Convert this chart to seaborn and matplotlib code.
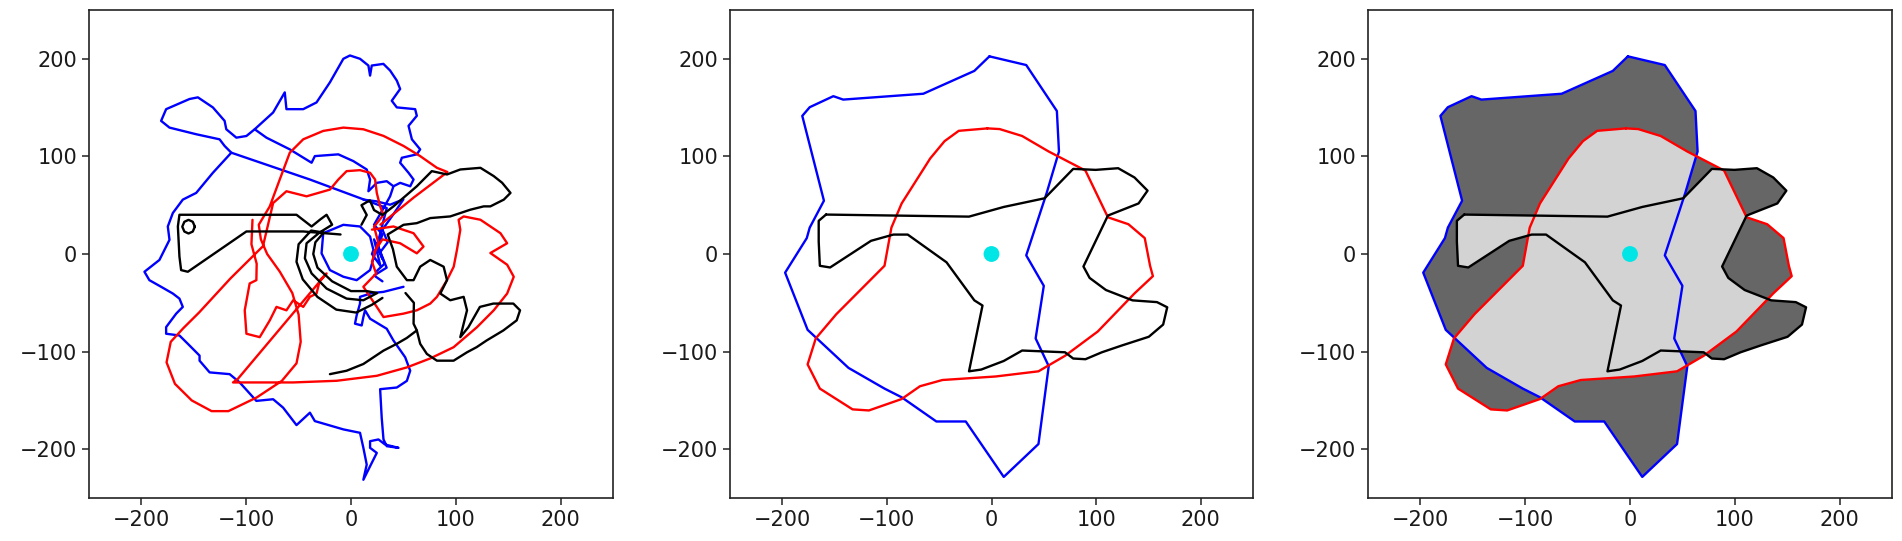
import numpy as np
import pandas as pd
import matplotlib
matplotlib.use("Agg")
import matplotlib.pyplot as plt
from matplotlib.patches import Polygon
import seaborn as sns

# ---------------- data ----------------
TICKS = [-200, -100, 0, 100, 200]
ORIGIN = (0, 0)

# Panel 1: raw trajectories (segments of each colour)
BLUE_TRACK_1 = [(25, 10), (30, -5), (22, 15), (28, -12), (20, 0), (21.4, 4.2), (18.2, 17.9), (8.6, 28.2),
                (-7.3, 29.9), (-26.5, 21.3), (-28.1, 0.7), (-20.1, -16.5), (-7.3, -23.3), (5.4, -26.8),
                (18.2, -16.5), (24, 5), (30, 30), (34.1, 47.1), (-39.2, 76.3), (-114.2, 103.8),
                (-120.6, 110.7), (-125.4, 117.5), (-147.7, 122.7), (-173.2, 129.5), (-181.2, 136.4),
                (-176.4, 148.4), (-154.1, 158.8), (-146.1, 160.5), (-131.8, 150.2), (-120.6, 136.4),
                (-119.0, 127.8), (-109.4, 119.2), (-99.8, 120.9), (-91.9, 127.8), (-74.3, 145),
                (-63.2, 165.6), (-61.6, 148.4), (-45.6, 148.4), (-32.9, 155.3), (-20.1, 175.9),
                (-7.3, 200), (-1.0, 203.4), (8.6, 200), (16.6, 193.1), (18.2, 182.8), (19.8, 193.1),
                (30.9, 194.8), (37.3, 188), (43.7, 177.7), (46.9, 169.1), (38.9, 157), (43.7, 150.2),
                (61.2, 148.4), (62.8, 141.6), (54.9, 131.3), (58.1, 117.5), (66.0, 107.2), (62.8, 102.1),
                (48.5, 98.6), (46.9, 93.5), (54.9, 83.2), (59.7, 76.3), (56.5, 69.4), (46.9, 72.9),
                (40.5, 69.4), (37.3, 59.1), (30, 45), (22, 30), (30, 20), (26, 8), (32, -10), (24, -18)]
BLUE_TRACK_2 = [(-91.9, 127.8), (-80.7, 119.2), (-58.4, 107.2), (-37.6, 93.5), (-34.5, 100.3),
                (-12.1, 102.1), (2.2, 95.2), (15.0, 86.6), (18.2, 76.3), (16.6, 64.3), (24.6, 72.9),
                (34.1, 74.6), (40.5, 69.4)]
BLUE_TRACK_3 = [(-114.2, 103.8), (-131.8, 83.2), (-147.7, 62.6), (-160.5, 55.7), (-170, 42),
                (-174.8, 28.2), (-173.2, 14.5), (-182.8, -6.1), (-197.1, -18.2), (-192.4, -26.8),
                (-181.2, -33.6), (-170, -40.5), (-163.7, -45.7), (-160.5, -54.2), (-166.8, -61.1),
                (-176.4, -74.9), (-176.4, -81.7), (-163.7, -83.5), (-155.7, -92.0), (-144.5, -104.1),
                (-144.5, -109.3), (-134.9, -121.3), (-115.8, -123.1), (-106.2, -131.6), (-90.3, -150.5),
                (-74.3, -148.8), (-64.8, -157.4), (-52, -175.3), (-39.2, -162.6), (-34.5, -171.2),
                (-7.3, -179.7), (8.6, -183.2), (11.8, -198.6), (15, -215.8), (11.8, -231.3),
                (18.2, -217.5), (24.6, -203.8), (18.2, -198.6), (18.2, -191.8), (26.2, -190),
                (32.5, -195.2), (45.3, -198.6), (34.1, -196.9), (31, -190), (29.3, -167.7),
                (27.8, -138.5), (43.7, -136.8), (53.3, -130), (56.5, -119.6), (51.7, -105.8),
                (40.5, -88.6), (34.1, -76.6), (18.2, -66.3), (13.4, -57.7), (11.8, -64.6),
                (10.2, -73.2), (3.8, -71.4), (5.4, -62.9), (8.6, -50.8), (8.6, -43.9), (20, -40),
                (31, -38.8), (50.1, -33.6)]
BLUE_TRACK_4 = [(11.8, 55.7), (24, 54), (37.3, 50.5), (50, 56), (40, 40), (30, 25), (35, 12),
                (28, 2), (34, -14), (22, -22), (30, -28)]

RED_TRACK_1 = [(28, 30), (60, 58), (92, 84), (82, 88.3), (66, 100.3), (50.1, 110.7), (31, 121),
               (11.8, 127.8), (-7.3, 129.5), (-26.5, 126.1), (-45.6, 117.5), (-58.4, 103.8),
               (-68, 76.3), (-77.5, 48.8), (-88, 30), (-86, 15), (-80, 0), (-68, -18), (-56, -40),
               (-50, -62), (-48, -90), (-52, -112), (-66, -130), (-90, -147), (-117, -161),
               (-133, -161), (-152, -150), (-168, -133), (-176, -111), (-172, -90), (-160, -76),
               (-145, -60), (-115, -25), (-84, 8), (-74.3, 52.2), (-61.6, 64.3), (-42.4, 59.1),
               (-20.1, 66), (-12.1, 76.3), (-4.2, 84.9), (8.6, 85.9), (18.2, 83.2), (23, 76.3),
               (24.6, 62.6), (27.8, 48.8), (31, 40), (22, 28), (26, 12), (20, -8), (24, -20),
               (11.8, -33.6), (22, -50), (31, -64.6), (50.1, -61.1), (62.8, -57.7), (75.6, -50.8),
               (82, -43.9), (91.6, -26.8), (98, -13), (101.1, 4.2), (104.3, 24.8), (102.7, 35.1),
               (107.5, 38.5), (123.5, 35.1), (142.6, 21.3), (149, 11), (133, 1), (149, -11),
               (155.3, -23.3), (149, -40.5), (136.2, -57.7), (120.3, -74.9), (97.9, -95.5),
               (75.6, -107), (53.3, -116.2), (24.6, -124.8), (-13.7, -129.9), (-55.2, -131.6),
               (-112.6, -131.6), (-108, -128), (-23.3, -19.9), (-29.7, -26.8), (-32.9, -40.5),
               (-39.2, -43.9), (-45.6, -54.2), (-55.2, -47.4), (-61.6, -57.7), (-71.1, -54.2),
               (-77.5, -68), (-87.1, -85.2), (-99.8, -81.7), (-101.4, -57.7), (-96.7, -30.2),
               (-90.3, -26.8), (-90, -10), (-95, 10), (-94, 35)]
RED_TRACK_2 = [(20, 25), (40.5, 28.2), (59.7, 21.3), (69.2, 7.6), (62.8, 0.7), (46.9, 11),
               (30, 15), (22, 2)]

BLACK_TRACK_1 = [(-10, 20), (-45.6, 23.1), (-99.8, 23.1), (-155.7, -18.2), (-162.1, -16.5),
                 (-163.7, -2.7), (-165.2, 28.2), (-163.7, 40.2), (-52, 40.2), (-37.6, 28.2),
                 (-29.7, 35.1), (-23.3, 40.2), (-18, 30), (-30, 22), (-42.4, 11), (-44, -4.4),
                 (-37.6, -19.9), (-23.3, -35.4), (-4.2, -45.7), (11.8, -47.4), (25, -40),
                 (15, -38), (0, -38), (-18, -28), (-32, -14), (-36, 0), (-34, 12), (-26, 22),
                 (-38, 24), (-50, 10), (-52, -8), (-46, -26), (-32, -44), (-14, -57), (5, -60),
                 (20, -52), (30, -45)]
BLACK_RING = [(-149, 28), (-151, 33), (-155, 35), (-159, 33), (-161, 28), (-159, 23), (-155, 21),
              (-151, 23), (-149, 28)]
BLACK_TRACK_2 = [(10, 30), (15, 40), (10, 50), (18, 55), (22, 45), (30, 40), (40.5, 48.8),
                 (62.8, 69.4), (77.1, 84.9), (91.6, 81.5), (104.3, 86.6), (123.5, 88.3),
                 (136.2, 79.8), (144.2, 73), (152.2, 62.6), (145.8, 55.7), (133, 48.8),
                 (126.6, 48.8), (113.9, 45.4), (94.7, 38.5), (75.6, 36.8), (62.8, 31.6),
                 (50.1, 29.9), (35, 20), (40, 5), (43.7, -13), (53.3, -26.8), (59.7, -26.8),
                 (66, -13), (75.6, -6.1), (88.4, -13), (91.6, -26.8), (85.2, -40.5), (94.7, -47.4),
                 (107.5, -43.9), (110.7, -57.7), (107.5, -71.4), (104.3, -85.2), (112, -75),
                 (123, -54.2), (135.8, -50.8), (154.9, -50.8), (161.3, -57.7), (158.1, -68),
                 (145.4, -78.3), (129.4, -88.6), (119.8, -95.5), (110.7, -100.7), (97.9, -109.3),
                 (82, -109.3), (72.4, -102.4), (66, -92), (62.8, -78.3), (59.7, -71.4),
                 (60, -50), (52, -40)]
BLACK_TRACK_3 = [(-20.1, -123.1), (-4.2, -119.6), (11.8, -112.7), (31, -99), (43.7, -92),
                 (53.3, -86), (62.8, -78.3)]

# Panels 2 & 3: simplified boundaries
BLUE_BOUNDARY = [(-2, 202.5), (33.2, 193.6), (62.5, 146.5), (64.5, 105), (52.7, 62.4), (33.2, -1.4),
                 (50, -32.6), (42.2, -86.5), (54.7, -114.9), (44.9, -194.7), (11.7, -228.4),
                 (-24.6, -171.6), (-52.7, -171.6), (-85.9, -146.8), (-102.3, -137.9),
                 (-136.7, -116.7), (-175.8, -77.7), (-197.3, -19.1), (-176.6, 16.3), (-173.8, 27),
                 (-160.2, 54.6), (-180.9, 141.5), (-173.8, 150.4), (-151.2, 161.7), (-141.8, 158.2),
                 (-65.2, 164.2), (-16.4, 187.6)]
RED_BOUNDARY = [(-3.9, 128.7), (-31.3, 126.2), (-44.9, 115.6), (-58.6, 97.9), (-85.9, 51.8),
                (-95.7, 27), (-102.3, -12.1), (-148.4, -61.7), (-168, -86.5), (-175.8, -113.1),
                (-164.1, -137.9), (-132.8, -159.2), (-117.2, -160.3), (-85.9, -148.6),
                (-68.4, -135.5), (-46.9, -129.1), (3.9, -125.5), (44.9, -120.2), (70.3, -104.3),
                (101.6, -79.4), (136.7, -40.4), (154.3, -22.7), (151.6, -12.1), (146.5, 16.3),
                (130.9, 30.5), (111.3, 37.6), (89.8, 85.5), (54.7, 105), (29.3, 120.9), (7.8, 128)]
BLACK_BOUNDARY = [(-158.2, 40.4), (-21.5, 38.3), (11.7, 48.2), (50.8, 57.1), (78.1, 87.2),
                  (99.6, 86.2), (121.1, 87.9), (136.7, 78.4), (149.2, 64.9), (140.6, 51.8),
                  (111.3, 39.4), (87.9, -12.8), (93.8, -24.5), (109.4, -36.9), (134.8, -47.5),
                  (158.2, -49.3), (168, -54.6), (164.1, -72.3), (150.4, -84.8), (125, -93.6),
                  (105.5, -100.7), (89.8, -107.8), (78.1, -107.1), (70.3, -100.7), (29.3, -98.9),
                  (11.7, -109.6), (-9.8, -118.4), (-21.5, -120.2), (-8.6, -52.8), (-16.4, -47.5),
                  (-43, -8.5), (-80.1, 19.9), (-93.8, 19.9), (-115.2, 13.5), (-154.3, -13.8),
                  (-164.1, -12.1), (-165.2, 12.8), (-165.2, 34)]

# ---------------- style ----------------
sns.set_theme(style="white")
plt.rcParams["font.family"] = ["DejaVu Sans"]
plt.rcParams["axes.edgecolor"] = "#222222"
plt.rcParams["axes.linewidth"] = 1.2

C_BLUE, C_RED, C_BLACK, C_CYAN = "#0000ff", "#ff0000", "#000000", "#00e5e5"
C_DARK, C_LIGHT = "#666666", "#d3d3d3"
LW = 1.7


def tracks_frame(groups):
    rows = []
    sid = 0
    for color, segs in groups:
        for seg in segs:
            for (x, y) in seg:
                rows.append({"x": x, "y": y, "seg": sid, "c": color})
            sid += 1
    return pd.DataFrame(rows)


def closed(poly):
    return list(poly) + [poly[0]]


def style_axes(ax):
    ax.set_xlim(-250, 250)
    ax.set_ylim(-250, 250)
    ax.set_xticks(TICKS)
    ax.set_yticks(TICKS)
    ax.tick_params(axis="both", which="both", labelsize=15, length=5, width=1.1,
                   color="#222222", labelcolor="#1a1a1a", direction="out",
                   bottom=True, left=True)
    ax.set_xlabel("")
    ax.set_ylabel("")
    for s in ax.spines.values():
        s.set_visible(True)
        s.set_color("#222222")
        s.set_linewidth(1.2)


def draw_tracks(ax, df):
    sns.lineplot(data=df, x="x", y="y", units="seg", hue="c", estimator=None, sort=False,
                 palette={C_BLUE: C_BLUE, C_RED: C_RED, C_BLACK: C_BLACK},
                 hue_order=[C_BLUE, C_RED, C_BLACK], linewidth=LW, legend=False, ax=ax)


def draw_origin(ax):
    sns.scatterplot(x=[ORIGIN[0]], y=[ORIGIN[1]], s=130, color=C_CYAN, edgecolor="none",
                    zorder=10, ax=ax)


fig = plt.figure(figsize=(19.02, 5.41), dpi=100)
ax1 = fig.add_axes([89 / 1902, 43 / 541, 524 / 1902, 488 / 541])
ax2 = fig.add_axes([730 / 1902, 43 / 541, 523 / 1902, 488 / 541])
ax3 = fig.add_axes([1368 / 1902, 43 / 541, 524 / 1902, 488 / 541])

# Panel 1
df1 = tracks_frame([
    (C_BLUE, [BLUE_TRACK_1, BLUE_TRACK_2, BLUE_TRACK_3, BLUE_TRACK_4]),
    (C_RED, [RED_TRACK_1, RED_TRACK_2]),
    (C_BLACK, [BLACK_TRACK_1, BLACK_RING, BLACK_TRACK_2, BLACK_TRACK_3]),
])
draw_tracks(ax1, df1)
draw_origin(ax1)
style_axes(ax1)

# Panel 2
df2 = tracks_frame([
    (C_BLUE, [closed(BLUE_BOUNDARY)]),
    (C_RED, [closed(RED_BOUNDARY)]),
    (C_BLACK, [closed(BLACK_BOUNDARY)]),
])
draw_tracks(ax2, df2)
draw_origin(ax2)
style_axes(ax2)

# Panel 3: dark = covered once, light = covered by at least two boundaries
polys = [BLUE_BOUNDARY, RED_BOUNDARY, BLACK_BOUNDARY]
for p in polys:
    xs, ys = zip(*p)
    ax3.fill(xs, ys, color=C_DARK, linewidth=0, zorder=1)
for i, a in enumerate(polys):
    for j, b in enumerate(polys):
        if i == j:
            continue
        xs, ys = zip(*a)
        patch = ax3.fill(xs, ys, color=C_LIGHT, linewidth=0, zorder=2)[0]
        clip = Polygon(b, closed=True, transform=ax3.transData)
        patch.set_clip_path(clip)
draw_tracks(ax3, df2)
draw_origin(ax3)
style_axes(ax3)

fig.savefig("out.png", dpi=100)
